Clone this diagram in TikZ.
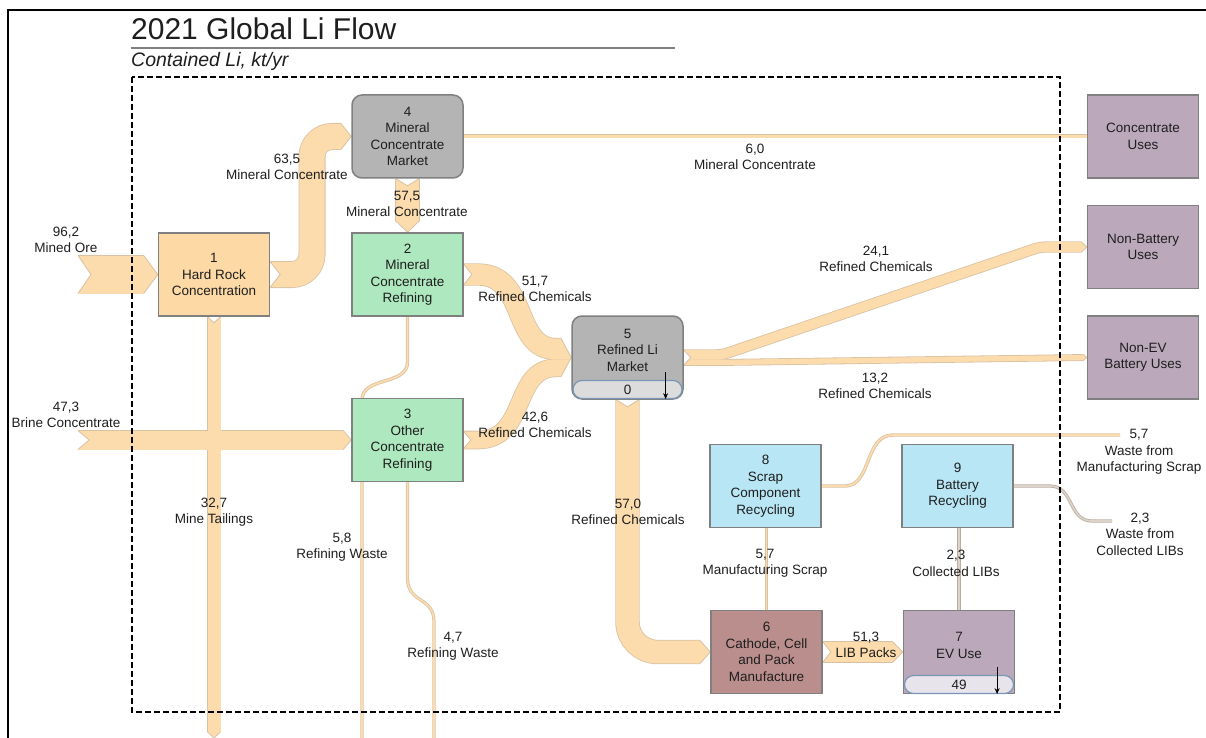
\documentclass[tikz,border=0pt]{standalone}
\usepackage{fontspec}
\setmainfont{Liberation Sans}
\usetikzlibrary{arrows.meta}
\pgfdeclarelayer{background}
\pgfsetlayers{background,main}

\definecolor{flowfill}{HTML}{FCDBAC}
\definecolor{flowedge}{HTML}{D8C2A4}
\definecolor{wastefill}{HTML}{DDD3C8}
\definecolor{wasteedge}{HTML}{B9AEA3}
\definecolor{boxedge}{HTML}{808080}
\definecolor{marketgray}{HTML}{B4B4B4}
\definecolor{minefill}{HTML}{FCD9A5}
\definecolor{refinefill}{HTML}{AEE8BE}
\definecolor{recyclefill}{HTML}{B8E6F5}
\definecolor{makefill}{HTML}{BA8E8C}
\definecolor{usefill}{HTML}{BBA9BB}
\definecolor{stockedge}{HTML}{7A96B6}
\definecolor{stockgray}{HTML}{DCDCDC}
\definecolor{evstock}{HTML}{E8E4EC}
\definecolor{inktext}{HTML}{1E1E1E}

% chevron tip at the end of a band: point, angle, half width, length
\newcommand\tipat[4]{%
  \begin{scope}[shift={(#1)}, rotate=#2]
    \fill[white] (-#4,-#3-2) -- (1,-#3-2) -- (1,0) -- (0,0) -- (-#4,-#3) -- cycle;
    \fill[white] (-#4,#3+2) -- (1,#3+2) -- (1,0) -- (0,0) -- (-#4,#3) -- cycle;
    \draw[flowedge, line width=0.8] (-#4,-#3) -- (0,0) -- (-#4,#3);
  \end{scope}}
% notch cut into the start of a band: point, angle, half width, depth
\newcommand\notchat[4]{%
  \begin{scope}[shift={(#1)}, rotate=#2]
    \fill[white] (-1,-#3-1) -- (#4,0) -- (-1,#3+1) -- cycle;
    \draw[flowedge, line width=0.8] (0,-#3) -- (#4,0) -- (0,#3);
  \end{scope}}

\begin{document}
\begin{tikzpicture}[x=1pt, y=-1pt,
  font=\fontsize{13.5}{16.5}\selectfont, text=inktext,
  box/.style={draw=boxedge, line width=1.5, minimum width=111, minimum height=83,
    align=center, inner sep=0},
  stock/.style={draw=stockedge, line width=1.2, rounded corners=9,
    minimum width=109, minimum height=18, inner sep=0},
  lbl/.style={align=center, inner sep=0},
  % band paths
  pOre/.style={insert path={(oreIn) -- (n1.west)}},
  pBrine/.style={insert path={(brineIn) -- (n3.west)}},
  pTail/.style={insert path={(n1.south) -- (tailOut)}},
  pMC1/.style={insert path={[rounded corners=20] (n1.east) -- (312,274.5) -- (312,136.5) -- (n4.west)}},
  pMC2/.style={insert path={(n4.south) -- (n2.north)}},
  pMC3/.style={insert path={(n4.east) -- (cu.west)}},
  pRC1/.style={insert path={(n2.east) -- (478,274.5) .. controls (528,274.5) and (512,349) .. (556,349) -- ([yshift=8.5pt]n5.west)}},
  pRC2/.style={insert path={(n3.east) -- (478,440) .. controls (528,440) and (512,367.85) .. (556,367.85) -- ([yshift=-10.35pt]n5.west)}},
  pNB/.style={insert path={[rounded corners=6] ([yshift=2.6pt]n5.east) -- (722,354.9) -- (1040,247) -- (nb.west)}},
  pNE/.style={insert path={([yshift=-4.85pt]n5.east) -- (730,362.35) -- (ne.west)}},
  pRC4/.style={insert path={[rounded corners=30] (n5.south) -- (627.5,652) -- (n6.west)}},
  pLIB/.style={insert path={(n6.east) -- (n7.west)}},
  pMS/.style={insert path={(n6.north) -- (n6.north |- n8.south)}},
  pCL/.style={insert path={(n7.north) -- (n7.north |- n9.south)}},
  pWMS/.style={insert path={(n8.east) -- (845,486) .. controls (872,486) and (864,435) .. (893,435) -- (wmsOut)}},
  pWCL/.style={insert path={(n9.east) -- (1050,486) .. controls (1074,486) and (1068,521) .. (1092,521) -- (wclOut)}},
  pRW1/.style={insert path={(n2.south) -- (407.5,362) .. controls (407.5,386) and (362,376) .. (362,400) -- (rw1Out)}},
  pRW2/.style={insert path={(n3.south) -- (407.5,578) .. controls (407.5,604) and (434,596) .. (434,622) -- (rw2Out)}},
]
\useasboundingbox (0,0) rectangle (1206,738);

% page frame and heading
\draw[black, line width=1.8] (1206,10) -- (8,10) -- (8,738);
\node[anchor=base west, inner sep=0, font=\fontsize{30}{36}\selectfont] (title) at (131,40) {2021 Global Li Flow};
\draw[boxedge, line width=1.5] (131,48) -- (675,48);
\node[anchor=base west, inner sep=0, font=\fontsize{19.5}{23}\selectfont\itshape] (subtitle) at (131,67) {Contained Li, kt/yr};

% free ends of the flows
\coordinate (oreIn) at (78,274.5);
\coordinate (brineIn) at (78,440);
\coordinate (tailOut) at (214,738);
\coordinate (wmsOut) at (1120,435);
\coordinate (wclOut) at (1112,521);
\coordinate (rw1Out) at (362,738);
\coordinate (rw2Out) at (434,738);

% processes
\node[box, fill=minefill] (n1) at (214,274.5) {1\\Hard Rock\\Concentration};
\node[box, fill=refinefill] (n2) at (407.5,274.5) {2\\Mineral\\Concentrate\\Refining};
\node[box, fill=refinefill] (n3) at (407.5,440) {3\\Other\\Concentrate\\Refining};
\node[box, rounded corners=10, fill=marketgray] (n4) at (407.5,136.5) {4\\Mineral\\Concentrate\\Market};
\node[box, rounded corners=10, fill=marketgray] (n5) at (627.5,357.5) {};
\node[lbl] (n5t) at (627.5,350) {5\\Refined Li\\Market};
\node[stock, fill=stockgray] (n5s) at (627.5,389.5) {0};
\draw[-{Stealth[length=6pt,width=5pt]}, line width=0.8] ([xshift=-17pt,yshift=27pt]n5s.south east) -- ([xshift=-17pt]n5s.south east);
\node[box, fill=makefill] (n6) at (766.5,652) {6\\Cathode, Cell\\and Pack\\Manufacture};
\node[box, fill=usefill] (n7) at (959,652) {};
\node[lbl] (n7t) at (959,645.5) {7\\EV Use};
\node[stock, fill=evstock] (n7s) at (959,684.5) {49};
\draw[-{Stealth[length=6pt,width=5pt]}, line width=0.8] ([xshift=-17pt,yshift=27.5pt]n7s.south east) -- ([xshift=-17pt]n7s.south east);
\node[box, fill=recyclefill] (n8) at (765.5,486) {8\\Scrap\\Component\\Recycling};
\node[box, fill=recyclefill] (n9) at (957.5,486) {9\\Battery\\Recycling};
\node[box, fill=usefill] (cu) at (1143,136.5) {Concentrate\\Uses};
\node[box, fill=usefill] (nb) at (1143,247) {Non-Battery\\Uses};
\node[box, fill=usefill] (ne) at (1143,357.5) {Non-EV\\Battery Uses};

% flows
\begin{pgfonlayer}{background}
  % outlines
  \draw[flowedge, line width=39.6] [pOre];
  \draw[flowedge, line width=20.6] [pBrine];
  \draw[flowedge, line width=14.6] [pTail];
  \draw[flowedge, line width=27] [pMC1];
  \draw[flowedge, line width=24.6] [pMC2];
  \draw[flowedge, line width=4] [pMC3];
  \draw[flowedge, line width=22.3] [pRC1];
  \draw[flowedge, line width=18.6] [pRC2];
  \draw[flowedge, line width=11.2] [pNB];
  \draw[flowedge, line width=6.9] [pNE];
  \draw[flowedge, line width=24.4] [pRC4];
  \draw[flowedge, line width=22.1] [pLIB];
  \draw[flowedge, line width=3.4] [pMS];
  \draw[wasteedge, line width=3.2] [pCL];
  \draw[flowedge, line width=3.4] [pWMS];
  \draw[wasteedge, line width=3.2] [pWCL];
  \draw[flowedge, line width=3.4] [pRW1];
  \draw[flowedge, line width=3.2] [pRW2];
  % fills
  \draw[flowfill, line width=38] [pOre];
  \draw[flowfill, line width=19] [pBrine];
  \draw[flowfill, line width=13] [pTail];
  \draw[flowfill, line width=25.4] [pMC1];
  \draw[flowfill, line width=23] [pMC2];
  \draw[flowfill, line width=2.4] [pMC3];
  \draw[flowfill, line width=20.7] [pRC1];
  \draw[flowfill, line width=17] [pRC2];
  \draw[flowfill, line width=9.6] [pNB];
  \draw[flowfill, line width=5.3] [pNE];
  \draw[flowfill, line width=22.8] [pRC4];
  \draw[flowfill, line width=20.5] [pLIB];
  \draw[flowfill, line width=1.8] [pMS];
  \draw[wastefill, line width=1.6] [pCL];
  \draw[flowfill, line width=1.8] [pWMS];
  \draw[wastefill, line width=1.6] [pWCL];
  \draw[flowfill, line width=1.8] [pRW1];
  \draw[flowfill, line width=1.6] [pRW2];
  % tips and notches
  \tipat{n1.west}{0}{19}{14}
  \notchat{oreIn}{0}{19}{13}
  \tipat{n3.west}{0}{9.5}{8}
  \notchat{brineIn}{0}{9.5}{11}
  \tipat{tailOut}{-90}{6.5}{6}
  \notchat{n1.south}{-90}{6.5}{6}
  \tipat{n4.west}{0}{12.7}{10}
  \notchat{n1.east}{0}{12.7}{10}
  \tipat{n2.north}{-90}{11.5}{11}
  \notchat{n4.south}{-90}{11.5}{7}
  \tipat{n5.west}{0}{18.9}{10}
  \notchat{n2.east}{0}{10.35}{8}
  \notchat{n3.east}{0}{8.5}{7}
  \notchat{n5.east}{0}{7.5}{7}
  \tipat{nb.west}{0}{4.8}{5}
  \tipat{ne.west}{0}{2.7}{3}
  \notchat{n5.south}{-90}{11.4}{7}
  \tipat{n6.west}{0}{11.4}{10}
  \notchat{n6.east}{0}{10.25}{8}
  \tipat{n7.west}{0}{10.25}{10}
\end{pgfonlayer}

% system boundary
\draw[black, line width=2, dash pattern=on 6pt off 3pt] (132,77) rectangle (1060,712);

% flow labels
\node[lbl] (lOre) at (66,240) {96,2\\Mined Ore};
\node[lbl] (lBrine) at (66,415) {47,3\\Brine Concentrate};
\node[lbl] (lTail) at (214,512) {32,7\\Mine Tailings};
\node[lbl] (lMC1) at (287,167) {63,5\\Mineral Concentrate};
\node[lbl] (lMC2) at (407,204) {57,5\\Mineral Concentrate};
\node[lbl] (lMC3) at (755,157) {6,0\\Mineral Concentrate};
\node[lbl] (lRC1) at (535,289) {51,7\\Refined Chemicals};
\node[lbl] (lRC2) at (535,425) {42,6\\Refined Chemicals};
\node[lbl] (lNB) at (876,259) {24,1\\Refined Chemicals};
\node[lbl] (lNE) at (875,386) {13,2\\Refined Chemicals};
\node[lbl] (lRC4) at (628,512) {57,0\\Refined Chemicals};
\node[lbl] (lLIB) at (866,645) {51,3\\LIB Packs};
\node[lbl] (lMS) at (765,563.5) {5,7\\Manufacturing Scrap};
\node[lbl] (lCL) at (956,563.5) {2,3\\Collected LIBs};
\node[lbl] (lWMS) at (1139,452) {5,7\\Waste from\\Manufacturing Scrap};
\node[lbl] (lWCL) at (1140,534) {2,3\\Waste from\\Collected LIBs};
\node[lbl] (lRW1) at (342,547) {5,8\\Refining Waste};
\node[lbl] (lRW2) at (453,646) {4,7\\Refining Waste};
\end{tikzpicture}
\end{document}
